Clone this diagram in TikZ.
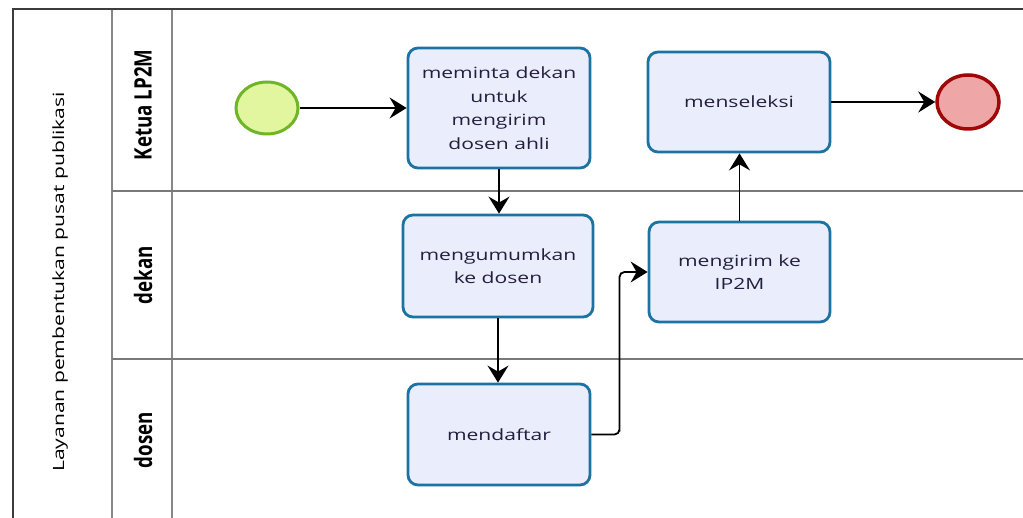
\documentclass[tikz,border=0pt]{standalone}
\usepackage{fontspec}
\setmainfont{Open Sans}
\newfontfamily\bodyfont[FakeStretch=1.36]{Open Sans}
\newfontfamily\lanefont[FakeStretch=0.78]{Open Sans}
\usetikzlibrary{arrows.meta,calc,shapes.geometric}
\definecolor{taskfill}{RGB}{234,238,252}
\definecolor{taskline}{RGB}{28,115,162}
\definecolor{txt}{RGB}{35,30,60}
\definecolor{startfill}{RGB}{226,246,160}
\definecolor{startline}{RGB}{112,180,40}
\definecolor{endfill}{RGB}{238,166,166}
\definecolor{endline}{RGB}{160,8,8}
\definecolor{frameline}{RGB}{60,60,60}
\definecolor{laneline}{RGB}{135,135,135}
\tikzset{
  task/.style={rounded corners=10pt, draw=taskline, fill=taskfill, line width=2.8pt,
    text=txt, align=center, inner sep=0pt,
    font=\bodyfont\fontsize{15.5}{23.5}\selectfont},
  startev/.style={ellipse, draw=startline, fill=startfill, line width=3pt,
    minimum width=62pt, minimum height=52pt, inner sep=0pt},
  endev/.style={ellipse, draw=endline, fill=endfill, line width=3.5pt,
    minimum width=62pt, minimum height=54pt, inner sep=0pt},
  flow/.style={draw=black, line width=1.8pt,
    -{Stealth[length=17pt,width=21pt,inset=6pt]}},
  lanelabel/.style={rotate=90, text=black, inner sep=0pt,
    font=\lanefont\bfseries\fontsize{24}{28}\selectfont},
  poollabel/.style={rotate=90, text=black, inner sep=0pt,
    font=\bodyfont\fontsize{15.5}{18}\selectfont},
  frame/.style={draw=frameline, line width=2pt},
  sep/.style={draw=laneline, line width=2pt}
}
\begin{document}
\begin{tikzpicture}[x=1pt,y=-1pt]
\useasboundingbox[fill=white] (0,0) rectangle (1023,518);
% frame
\draw[sep] (112,9) -- (112,518);
\draw[sep] (172,9) -- (172,518);
\draw[draw=laneline!90!black, line width=1.5pt] (112,191) -- (1023,191);
\draw[draw=laneline!90!black, line width=1.5pt] (112,359) -- (1023,359);
\draw[frame] (13,518) -- (13,9) -- (1023,9);
% labels
\node[poollabel] (pool) at (60,282) {Layanan pembentukan pusat publikasi};
\node[lanelabel] (l1) at (143,105) {Ketua LP2M};
\node[lanelabel] (l2) at (143,275) {dekan};
\node[lanelabel] (l3) at (143,440) {dosen};
% events
\node[startev] (start) at (267,108) {};
\node[endev] (end) at (968,102) {};
% tasks
\node[task, minimum width=182pt, minimum height=120pt] (t1) at (499,108)
  {meminta dekan\\untuk\\mengirim\\dosen ahli};
\node[task, minimum width=190pt, minimum height=102pt] (t2) at (498,266)
  {mengumumkan\\ke dosen};
\node[task, minimum width=182pt, minimum height=101pt] (t3) at (499,434.5)
  {mendaftar};
\node[task, minimum width=181pt, minimum height=100pt] (t4) at (739.5,272)
  {mengirim ke\\IP2M};
\node[task, minimum width=182pt, minimum height=100pt] (t5) at (739,102)
  {menseleksi};
% flows
\draw[flow] (start) -- (t1);
\draw[flow] (t1.south) -- (t1.south |- t2.north);
\draw[flow] (t2.south) -- (t2.south |- t3.north);
\draw[flow] (t3.east) [rounded corners=5pt] -| ($(t3.east)!0.5!(t4.west |- t3.east)$) |- (t4.west);
\draw[flow] (t4.north) -- (t4.north |- t5.south);
\draw[flow] (t5.east) -- (end);
\end{tikzpicture}
\end{document}
